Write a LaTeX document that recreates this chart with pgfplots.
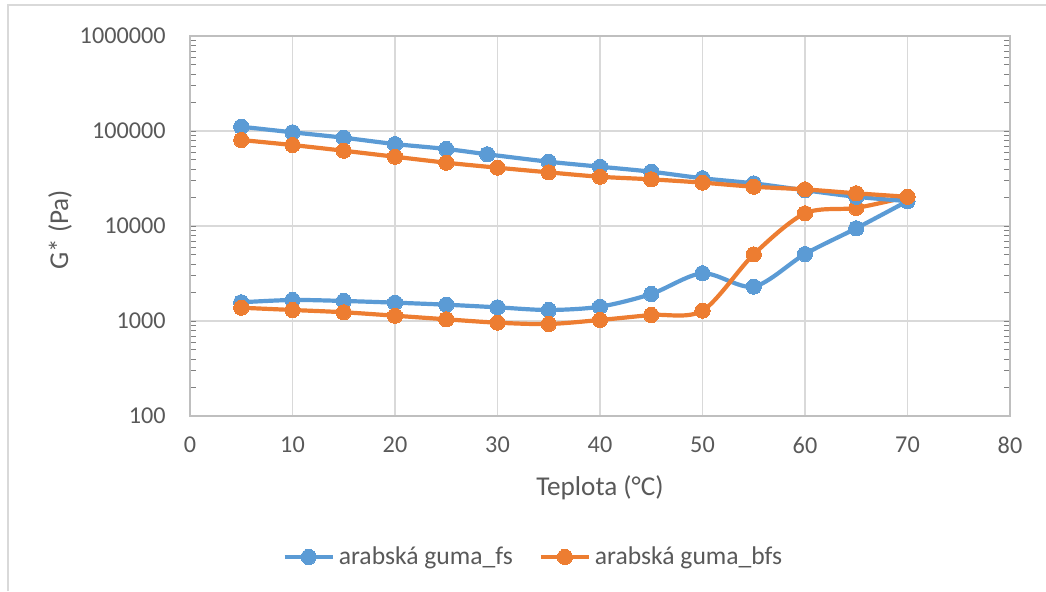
\documentclass[border=0pt]{standalone}
\usepackage{fontspec}
\setmainfont{Carlito}
\usepackage{pgfplots}
\pgfplotsset{compat=1.18}
\definecolor{cblue}{HTML}{5B9BD5}
\definecolor{corange}{HTML}{ED7D31}
\definecolor{txt}{HTML}{595959}
\definecolor{gridc}{HTML}{D9D9D9}
\definecolor{axisc}{HTML}{BFBFBF}
\begin{document}
\begin{tikzpicture}
\path[use as bounding box] (0,0) rectangle (523pt,295.5pt);
\draw[gridc, line width=0.7pt] (4pt,0) -- (4pt,293pt) -- (523pt,293pt);
\begin{axis}[
  at={(95pt,87.5pt)}, anchor=south west,
  scale only axis, width=410pt, height=190pt,
  xmin=0, xmax=80, ymin=100, ymax=1000000,
  ymode=log,
  xtick={0,10,20,30,40,50,60,70,80},
  xticklabels={0,10,20,30,40,50,60,70,80},
  ytick={100,1000,10000,100000,1000000},
  yticklabels={100,1000,10000,100000,1000000},
  minor ytick={}, 
  major tick length=0pt,
  grid=major,
  major grid style={gridc, line width=0.65pt},
  axis line style={axisc, line width=0.65pt},
  tick label style={txt, font=\fontsize{12.1}{14.5}\selectfont, inner sep=0pt},
  xticklabel shift=10.3pt,
  yticklabel shift=12pt,
  xlabel={Teplota (°C)},
  ylabel={G* (Pa)},
  label style={txt, font=\fontsize{13.6}{16.3}\selectfont},
  xlabel style={at={(axis description cs:0.5,-0.189)}, anchor=center},
  ylabel style={at={(axis description cs:-0.1585,0.49)}, anchor=center, rotate=0},
  legend columns=2,
  legend style={draw=none, fill=none, at={(axis description cs:0.42,-0.371)}, anchor=center,
    font=\fontsize{12.8}{15.4}\selectfont, text=txt,
    nodes={inner xsep=2pt},
    /tikz/every odd column/.append style={column sep=0pt},
    /tikz/every even column/.append style={column sep=11pt}},
  legend cell align=left,
  legend image code/.code={\draw[mark repeat=2, mark phase=2, #1] plot coordinates {(0pt,0pt) (12pt,0pt) (24pt,0pt)};},
  every axis plot/.append style={line width=2.1pt, smooth, mark=*, mark size=3.8pt},
  clip=false,
]
% arabska guma_fs (lower branch, heating)
\addplot[cblue, mark options={fill=cblue, draw=cblue, line width=0pt}] coordinates {
(5,1574) (10,1665) (15,1625) (20,1560) (25,1485) (30,1393) (35,1306) (40,1415)
(45,1925) (50,3180) (55,2300) (60,5070) (65,9460) (70,18300)};
\addlegendentry{arabská guma\_fs}
% arabska guma_bfs (lower branch)
\addplot[corange, mark options={fill=corange, draw=corange, line width=0pt}] coordinates {
(5,1380) (10,1306) (15,1236) (20,1137) (25,1042) (30,960) (35,930) (40,1025)
(45,1157) (50,1284) (55,5030) (60,13600) (65,15500) (70,20300)};
\addlegendentry{arabská guma\_bfs}
% arabska guma_fs (upper branch, cooling)
\addplot[cblue, forget plot, mark options={fill=cblue, draw=cblue, line width=0pt}] coordinates {
(70,18300) (65,20300) (60,23800) (55,28100) (50,31800) (45,37300) (40,42100)
(35,47500) (29,56900) (25,64700) (20,72900) (15,85000) (10,96900) (5,111000)};
% arabska guma_bfs (upper branch)
\addplot[corange, forget plot, mark options={fill=corange, draw=corange, line width=0pt}] coordinates {
(70,20300) (65,22100) (60,24300) (55,25900) (50,28600) (45,31000) (40,33000)
(35,36700) (30,41100) (25,46400) (20,53600) (15,62000) (10,71200) (5,80400)};
\end{axis}
\end{tikzpicture}
\end{document}
